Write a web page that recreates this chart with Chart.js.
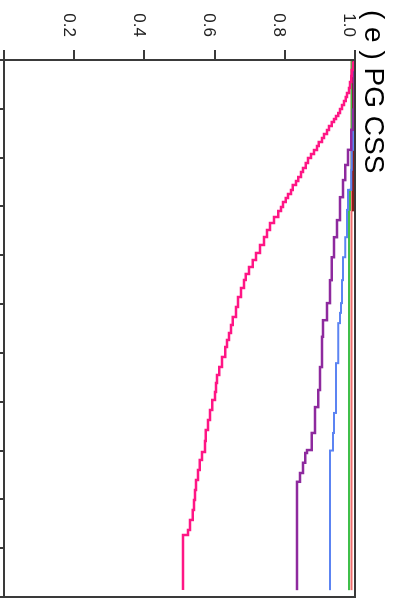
<!DOCTYPE html>
<html>
<head>
<meta charset="utf-8">
<script src="https://cdn.jsdelivr.net/npm/chart.js@4/dist/chart.umd.min.js"></script>
<style>
  html, body { margin: 0; padding: 0; background: #fff; overflow: hidden; }
  /* the chart is drawn upright and turned a quarter clockwise */
  #wrap {
    position: absolute; left: 0; top: 0;
    width: 608px; height: 393px;
    transform-origin: 0 0;
    transform: translate(393px, 0) rotate(90deg);
  }
</style>
</head>
<body>
<div id="wrap"><canvas id="chart" width="608" height="393"></canvas></div>
<script>
// Titulo y marcas del eje de valores
const chartTitle = "( e ) PG CSS";
const valueTicks = [0, 0.2, 0.4, 0.6, 0.8, 1.0];

// Curvas escalonadas (x = posicion, v = valor tras el escalon)
const pinkX = [0, 0.061, 0.205, 0.328, 0.451, 0.573, 0.676, 0.758, 0.840, 0.922, 1.004, 1.086, 1.147, 1.209, 1.270, 1.352, 1.434, 1.516, 1.598, 1.680, 1.762, 1.844, 1.926, 2.007, 2.110, 2.212, 2.294, 2.397, 2.479, 2.560, 2.663, 2.745, 2.827, 2.909, 3.011, 3.093, 3.216, 3.339, 3.482, 3.626, 3.789, 3.953, 4.097, 4.240, 4.383, 4.506, 4.670, 4.855, 5.059, 5.264, 5.428, 5.592, 5.735, 5.879, 6.083, 6.288, 6.452, 6.616, 6.800, 6.964, 7.169, 7.374, 7.579, 7.804, 8.030, 8.193, 8.398, 8.603, 8.808, 9.013, 9.217, 9.422, 9.627, 9.730, 9.771, 10.856];
const pinkV = [1.0, 0.997, 0.994, 0.991, 0.989, 0.986, 0.983, 0.977, 0.974, 0.969, 0.963, 0.957, 0.952, 0.946, 0.940, 0.934, 0.926, 0.920, 0.912, 0.906, 0.897, 0.892, 0.883, 0.875, 0.866, 0.860, 0.852, 0.846, 0.838, 0.832, 0.823, 0.818, 0.809, 0.803, 0.795, 0.789, 0.781, 0.769, 0.758, 0.749, 0.741, 0.729, 0.718, 0.709, 0.698, 0.689, 0.684, 0.675, 0.667, 0.661, 0.652, 0.647, 0.641, 0.635, 0.630, 0.621, 0.613, 0.607, 0.604, 0.601, 0.593, 0.587, 0.581, 0.575, 0.573, 0.564, 0.558, 0.553, 0.547, 0.544, 0.541, 0.538, 0.530, 0.524, 0.510, 0.510];

const purpleX = [0, 1.02, 1.43, 1.84, 2.15, 2.46, 2.81, 3.28, 3.63, 4.04, 4.51, 4.98, 5.33, 5.67, 6.29, 6.76, 7.11, 7.64, 7.99, 8.05, 8.25, 8.46, 8.64, 9.28, 10.86];
const purpleV = [1.0, 0.997, 0.994, 0.989, 0.980, 0.972, 0.966, 0.957, 0.949, 0.940, 0.934, 0.929, 0.920, 0.909, 0.906, 0.900, 0.895, 0.886, 0.877, 0.863, 0.858, 0.852, 0.843, 0.835, 0.835];

const blueX = [0, 1.02, 1.84, 2.25, 2.66, 3.07, 3.63, 4.04, 4.51, 4.98, 5.18, 5.39, 6.21, 7.23, 7.64, 8.00, 8.87, 10.86];
const blueV = [1.0, 0.997, 0.994, 0.991, 0.989, 0.980, 0.977, 0.972, 0.966, 0.963, 0.960, 0.957, 0.952, 0.946, 0.940, 0.937, 0.929, 0.929];

const greenX = [0, 2.66, 3.07, 4.92, 10.86];
const greenV = [1.0, 0.991, 0.986, 0.983, 0.983];

const redX = [0, 4.92, 10.86];
const redV = [1.0, 0.990, 0.990];

const darkRedX = [0, 2.80, 3.10];
const darkRedV = [1.0, 0.994, 0.994];

function toPoints(xs, vs) {
    return xs.map((x, i) => ({ x: x, y: vs[i] }));
}

function stepSet(xs, vs, color, width) {
    return {
        data: toPoints(xs, vs),
        borderColor: color,
        borderWidth: width,
        pointRadius: 0,
        stepped: "after",
        fill: false
    };
}

// marco alrededor del area del grafico
const framePlugin = {
    id: "frame",
    afterDatasetsDraw(chart) {
        const a = chart.chartArea;
        const ctx = chart.ctx;
        ctx.save();
        ctx.strokeStyle = "#3a3a3a";
        ctx.lineWidth = 2;
        ctx.strokeRect(a.left, a.top, a.right - a.left, a.bottom - a.top);
        ctx.restore();
    }
};

new Chart(document.getElementById("chart"), {
    type: "line",
    data: {
        datasets: [
            stepSet(pinkX, pinkV, "#ff1685", 2.5),
            stepSet(purpleX, purpleV, "#8e2a9e", 2.5),
            stepSet(blueX, blueV, "#5c84f2", 2),
            stepSet(darkRedX, darkRedV, "#8b1c1c", 2),
            stepSet(greenX, greenV, "#3fbf4a", 2),
            stepSet(redX, redV, "#ef6f6f", 2)
        ]
    },
    options: {
        responsive: false,
        animation: false,
        layout: { padding: { left: 10, right: 11, top: 0, bottom: 0 } },
        plugins: {
            legend: { display: false },
            tooltip: { enabled: false },
            title: {
                display: true,
                text: chartTitle,
                align: "start",
                color: "#000",
                font: { family: "Liberation Sans", size: 28, weight: "normal", lineHeight: 1.2 },
                padding: { top: 3, bottom: 1.4 }
            }
        },
        scales: {
            x: {
                type: "linear",
                min: 0,
                max: 11,
                border: { display: false },
                grid: { drawOnChartArea: false, drawTicks: true, tickLength: 5, color: "#3a3a3a", lineWidth: 2 },
                ticks: { stepSize: 1, display: false },
                afterFit: s => { s.height = 4; s.paddingLeft = 0; s.paddingRight = 0; }
            },
            y: {
                type: "linear",
                min: 0,
                max: 1,
                afterBuildTicks: s => { s.ticks = valueTicks.map(v => ({ value: v })); },
                border: { display: false },
                grid: { drawOnChartArea: false, drawTicks: true, tickLength: 10, color: "#3a3a3a", lineWidth: 2 },
                ticks: {
                    color: "#222",
                    padding: 13,
                    labelOffset: 6,
                    font: { family: "Liberation Sans", size: 17 },
                    callback: v => v === 0 ? "" : v.toFixed(1)
                },
                afterFit: s => { s.width = 50; s.paddingTop = 0; s.paddingBottom = 0; }
            }
        }
    },
    plugins: [framePlugin]
});
</script>
</body>
</html>
